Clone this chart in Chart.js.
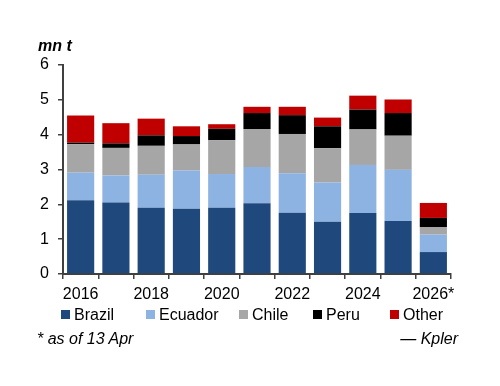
<!DOCTYPE html>
<html>
<head>
<meta charset="utf-8">
<script src="https://cdn.jsdelivr.net/npm/chart.js@4"></script>
<style>
  body { margin: 0; background: #fff; }
  #wrap { position: relative; width: 500px; height: 386px; font-family: "Liberation Sans", Arial, sans-serif; }
  canvas { position: absolute; left: 0; top: 0; }
  .note { position: absolute; font-size: 16px; font-style: italic; color: #000; white-space: nowrap; }
  .item { position: absolute; top: 306px; font-size: 16px; line-height: 18px; color: #000; white-space: nowrap; }
  .item span { display: inline-block; width: 9px; height: 9px; margin-right: 4px; vertical-align: 1px; }
</style>
</head>
<body>
<div id="wrap">
  <canvas id="myChart" width="500" height="386"></canvas>
  <div class="note" style="left:38px; top:37px; font-weight:bold;">mn t</div>
  <div id="legend"></div>
  <div class="note" style="left:37px; top:330px;">* as of 13 Apr</div>
  <div class="note" style="right:42px; top:330px;">— Kpler</div>
</div>
<script>
const years = ["2016", "2017", "2018", "2019", "2020", "2021", "2022", "2023", "2024", "2025", "2026*"];
const brazil  = [2.12, 2.05, 1.90, 1.87, 1.90, 2.03, 1.76, 1.50, 1.75, 1.52, 0.63];
const ecuador = [0.79, 0.78, 0.95, 1.10, 0.97, 1.04, 1.13, 1.13, 1.38, 1.47, 0.50];
const chile   = [0.82, 0.79, 0.83, 0.75, 0.97, 1.09, 1.13, 0.98, 1.02, 0.98, 0.22];
const peru    = [0.04, 0.13, 0.30, 0.24, 0.33, 0.46, 0.54, 0.63, 0.57, 0.65, 0.26];
const other   = [0.78, 0.58, 0.48, 0.28, 0.13, 0.18, 0.24, 0.25, 0.40, 0.39, 0.43];
const yTicks  = [0, 1, 2, 3, 4, 5, 6];

const axisColor = "#404040";
const font = { family: "'Liberation Sans', Arial, sans-serif", size: 16 };

function series(label, data, color) {
    return {
        label: label,
        data: data,
        backgroundColor: color,
        borderWidth: 0,
        categoryPercentage: 1,
        barPercentage: 0.77
    };
}

const chartData = {
    labels: years,
    datasets: [
        series("Brazil", brazil, "#1f497d"),
        series("Ecuador", ecuador, "#8db3e2"),
        series("Chile", chile, "#a6a6a6"),
        series("Peru", peru, "#000000"),
        series("Other", other, "#c00000")
    ]
};

const chartConfig = {
    type: "bar",
    data: chartData,
    options: {
        responsive: false,
        animation: false,
        layout: { padding: { top: 65, left: 0, right: 0, bottom: 82 } },
        plugins: {
            tooltip: { enabled: false },
            legend: { display: false }
        },
        scales: {
            x: {
                stacked: true,
                grid: {
                    offset: true,
                    drawOnChartArea: false,
                    tickLength: 5,
                    color: axisColor,
                    lineWidth: 1.5
                },
                border: { color: axisColor, width: 2 },
                ticks: {
                    color: "#000",
                    font: font,
                    padding: 6,
                    autoSkip: false,
                    maxRotation: 0,
                    callback: function (value, index) {
                        return index % 2 === 0 ? years[index] : "";
                    }
                },
                afterFit: function (scale) { scale.height = 30; }
            },
            y: {
                stacked: true,
                min: 0,
                max: 6,
                afterBuildTicks: function (scale) {
                    scale.ticks = yTicks.map(v => ({ value: v }));
                },
                grid: {
                    drawOnChartArea: false,
                    tickLength: 5,
                    color: axisColor,
                    lineWidth: 1.5
                },
                border: { color: axisColor, width: 2 },
                ticks: { color: "#000", font: font, padding: 9 },
                afterFit: function (scale) { scale.width = 63; }
            },
            y2: {
                position: "right",
                display: true,
                grid: { display: false },
                border: { display: false },
                ticks: { display: false },
                afterFit: function (scale) { scale.width = 49; }
            }
        }
    }
};

const myChart = new Chart(document.getElementById("myChart"), chartConfig);

// legend laid out like the reference
const legendX = [61, 146, 239, 313, 390];
const legendEl = document.getElementById("legend");
chartData.datasets.forEach((ds, i) => {
    const item = document.createElement("div");
    item.className = "item";
    item.style.left = legendX[i] + "px";
    item.innerHTML = '<span style="background:' + ds.backgroundColor + '"></span>' + ds.label;
    legendEl.appendChild(item);
});
</script>
</body>
</html>
